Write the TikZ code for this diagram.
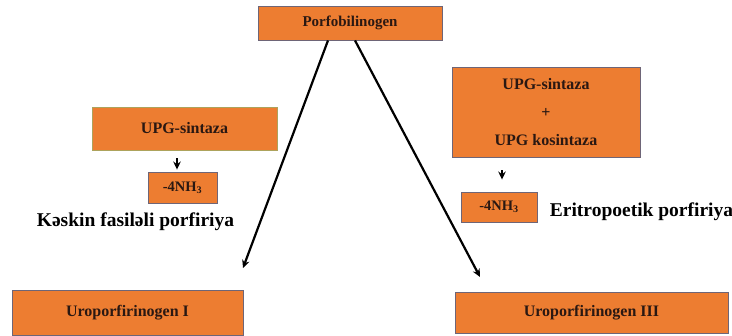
\documentclass[tikz,border=0pt]{standalone}
\usepackage{fontspec}
\setmainfont{Liberation Serif}
\usepackage{tikz}
\usetikzlibrary{arrows.meta}
\definecolor{boxfill}{HTML}{ED7D31}
\definecolor{boxline}{HTML}{6E6577}
\definecolor{boxlineg}{HTML}{ADA35C}
\definecolor{boxtext}{HTML}{2A1812}

\begin{document}
\begin{tikzpicture}[x=1pt,y=-1pt,
  box/.style={draw=boxline,fill=boxfill,line width=0.9pt,inner sep=0pt,
    text=boxtext,font=\bfseries\fontsize{16}{19}\selectfont},
  label/.style={font=\bfseries\fontsize{19.5}{22}\selectfont},
  arrow/.style={-{Stealth[length=8pt,width=7.5pt]},line width=2.2pt}]
\useasboundingbox (0,0) rectangle (732,336);

% Substrate
\node[box,font=\bfseries\fontsize{15}{18}\selectfont,minimum width=184pt,minimum height=34pt] (porfo) at (350,23) {Porfobilinogen};

% Left branch
\node[box,draw=boxlineg,minimum width=185pt,minimum height=43pt] (upgL) at (184.5,128.5) {UPG-sintaza};
\node[box,font=\bfseries\fontsize{14.5}{17}\selectfont,minimum width=69pt,minimum height=31pt] (nh3L) at (182.5,187.5) {-4NH\textsubscript{3}};
\draw[arrow,shorten <=8pt,shorten >=2pt] ([xshift=-7.5pt]upgL.south) -- ([xshift=-5.5pt]nh3L.north);
\node[label] (keskin) at (135.5,222) {Kəskin fasiləli porfiriya};

% Right branch
\node[box,align=center,minimum width=188pt,minimum height=90pt] (upgR) at (546,112)
  {UPG-sintaza\\[9pt]+\\[9pt]UPG kosintaza};
\node[box,font=\bfseries\fontsize{14.5}{17}\selectfont,minimum width=76pt,minimum height=30pt] (nh3R) at (499,207) {-4NH\textsubscript{3}};
\draw[arrow,shorten <=13pt,shorten >=12pt] ([xshift=-44pt]upgR.south) -- ([xshift=3pt]nh3R.north);
\node[label] (eritro) at (641.5,212) {Eritropoetik porfiriya};

% Products
\node[box,minimum width=231pt,minimum height=45pt] (uroI) at (127.5,312.5) {Uroporfirinogen I};
\node[box,minimum width=273pt,minimum height=41pt] (uroIII) at (591.5,312.5) {Uroporfirinogen III};

% Main arrows
\coordinate (tipL) at (243,268);
\coordinate (tipR) at (480,277);
\draw[arrow] ([xshift=-22pt]porfo.south) -- (tipL);
\draw[arrow] ([xshift=5pt]porfo.south) -- (tipR);
\end{tikzpicture}
\end{document}
